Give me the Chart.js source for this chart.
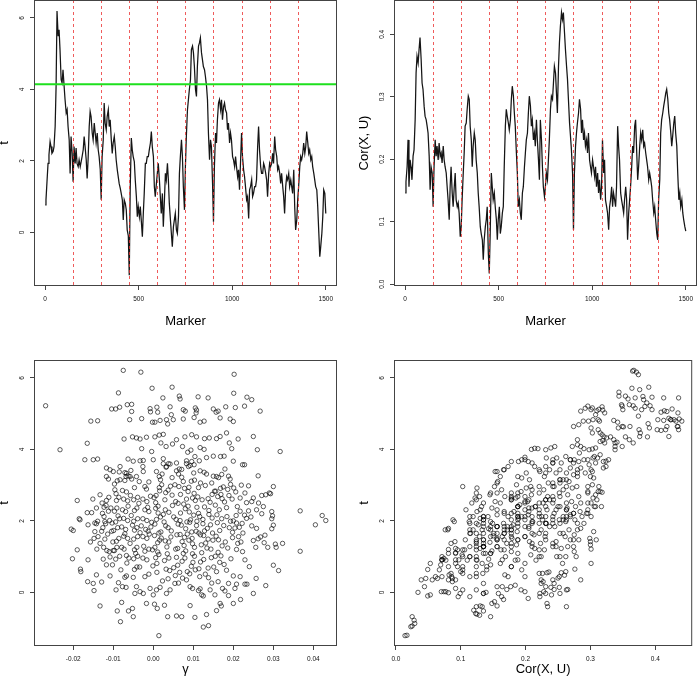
<!DOCTYPE html>
<html>
<head>
<meta charset="utf-8">
<script src="https://cdn.jsdelivr.net/npm/chart.js@4.4.1/dist/chart.umd.min.js"></script>
<style>
  html, body { margin: 0; padding: 0; background: #fff; }
  #wrap { position: relative; width: 697px; height: 677px; overflow: hidden; }
  #wrap canvas { position: absolute; }
</style>
</head>
<body>
<div id="wrap">
  <canvas id="tracePlot" width="348" height="338" style="left:0;top:0"></canvas>
  <canvas id="corPlot" width="349" height="338" style="left:348px;top:0"></canvas>
  <canvas id="gammaPlot" width="348" height="339" style="left:0;top:338px"></canvas>
  <canvas id="corScatter" width="349" height="339" style="left:348px;top:338px"></canvas>
</div>
<script>
// marker positions at which both traces were read
const markers = [
  1,5,11,16,21,27,32,37,43,48, 54,59,64,70,75,80,86,91,96,102,
  107,113,118,123,129,134,139,145,150,155, 161,166,171,177,182,188,193,198,204,209,
  214,220,225,230,236,241,246,252,257,263, 268,273,279,284,289,295,300,305,311,316,
  321,327,332,338,343,348,354,359,364,370, 375,380,386,391,396,402,407,413,418,423,
  429,434,439,445,450,455,461,466,471,477, 482,488,493,498,504,509,514,520,525,530,
  536,541,546,552,557,563,568,573,579,584, 589,595,600,605,611,616,621,627,632,638,
  643,648,654,659,664,670,675,680,686,691, 696,702,707,713,718,723,729,734,739,745,
  750,755,761,766,771,777,782,788,793,798, 804,809,814,820,825,830,836,841,846,852,
  857,863,868,873,879,884,889,895,900,905, 911,916,921,927,932,938,943,948,954,959,
  964,970,975,980,986,991,996,1002,1007,1013, 1018,1023,1029,1034,1039,1045,1050,1055,1061,1066,
  1071,1077,1082,1088,1093,1098,1104,1109,1114,1120, 1125,1130,1136,1141,1146,1152,1157,1163,1168,1173,
  1179,1184,1189,1195,1200,1205,1211,1216,1221,1227, 1232,1238,1243,1248,1254,1259,1264,1270,1275,1280,
  1286,1291,1296,1302,1307,1313,1318,1323,1329,1334, 1339,1345,1350,1355,1361,1366,1371,1377,1382,1388,
  1393,1398,1404,1409,1414,1420,1425,1430,1436,1441, 1446,1452,1457,1463,1468,1473,1479,1484,1489,1495,
  1500
];

// t statistic per marker
const tVals = [
  0.77,0.91,1.47,1.93,2.17,2.54,2.40,2.21,2.26,2.40, 2.96,4.08,6.19,5.49,5.67,5.11,4.27,4.18,4.55,4.08,
  3.71,3.34,3.43,2.96,2.59,1.65,2.68,2.21,1.42,2.40, 1.93,2.36,1.93,1.84,2.03,1.84,1.98,2.12,2.31,2.68,
  2.40,2.03,1.51,2.03,2.96,3.38,3.24,2.78,2.59,3.06, 2.78,2.50,2.78,2.31,2.12,1.75,0.91,2.12,2.59,3.62,
  3.06,2.87,3.24,3.43,2.96,3.15,2.59,2.21,2.50,2.68, 2.40,2.03,1.75,1.56,1.37,1.23,1.09,0.91,0.35,0.91,
  0.81,0.63,0.07,-0.10,-1.20,1.20,2.64,2.31,2.12,1.98, 1.47,1.00,0.44,0.72,0.44,0.72,0.35,-0.12,0.53,1.09,
  1.93,1.93,2.12,2.12,2.31,2.50,2.82,2.40,2.12,1.28, 1.00,1.37,1.65,1.93,1.47,1.00,0.53,1.09,0.16,0.91,
  1.65,1.47,1.93,1.47,0.81,0.35,-0.03,-0.40,0.16,0.35, 0.53,0.07,-0.03,0.44,1.65,2.12,2.59,2.12,1.28,0.63,
  1.84,2.68,3.43,3.71,3.99,4.27,5.11,5.21,5.02,4.64, 3.99,3.80,4.64,5.21,5.30,5.44,5.02,4.83,4.64,4.55,
  4.36,4.08,3.71,2.78,2.03,2.59,2.40,1.37,0.30,1.84, 2.78,2.50,3.15,3.62,3.71,3.43,3.71,3.15,3.52,3.62,
  3.43,3.34,2.87,3.06,2.50,2.78,2.59,2.12,2.03,1.84, 2.12,1.84,1.56,1.75,1.19,2.03,2.78,2.12,1.75,1.56,
  1.28,0.91,1.00,0.39,1.19,1.28,1.47,1.00,1.09,1.28, 1.28,1.47,2.40,2.96,2.31,1.84,1.65,1.65,1.93,1.84,
  1.65,1.47,1.00,1.65,1.93,1.84,1.93,2.21,1.93,2.68, 2.31,2.12,1.75,1.84,1.65,1.37,1.65,1.28,1.00,0.53,
  1.28,1.56,1.47,1.65,1.28,1.47,1.28,1.09,1.75,0.72, 0.07,0.35,0.91,1.28,1.84,2.12,2.03,2.21,2.50,2.21,
  2.40,2.82,2.50,2.21,2.31,2.03,2.12,1.84,1.65,1.47, 1.28,1.19,0.72,-0.03,-0.68,-0.40,-0.03,0.44,1.19,1.09,
  0.53
];

// Cor(X, U) per marker
const corVals = [
  0.146,0.164,0.188,0.231,0.156,0.199,0.188,0.167,0.205,0.215, 0.263,0.338,0.365,0.354,0.376,0.395,0.360,0.322,0.312,0.285,
  0.269,0.263,0.253,0.242,0.205,0.151,0.188,0.178,0.124,0.188, 0.231,0.205,0.221,0.199,0.226,0.205,0.210,0.194,0.221,0.199,
  0.188,0.178,0.156,0.135,0.103,0.156,0.188,0.146,0.124,0.156, 0.178,0.135,0.124,0.130,0.114,0.076,0.092,0.135,0.178,0.210,
  0.253,0.258,0.280,0.301,0.296,0.253,0.231,0.188,0.221,0.242, 0.231,0.199,0.178,0.146,0.124,0.092,0.081,0.071,0.039,0.071,
  0.092,0.103,0.124,0.049,0.017,0.081,0.178,0.156,0.135,0.146, 0.124,0.103,0.071,0.103,0.124,0.081,0.092,0.114,0.124,0.188,
  0.253,0.280,0.269,0.258,0.247,0.263,0.296,0.317,0.301,0.274, 0.253,0.210,0.178,0.124,0.135,0.114,0.103,0.146,0.156,0.188,
  0.210,0.231,0.242,0.274,0.301,0.285,0.253,0.263,0.231,0.242, 0.221,0.263,0.231,0.199,0.167,0.263,0.231,0.188,0.156,0.140,
  0.156,0.178,0.167,0.199,0.231,0.280,0.301,0.296,0.322,0.349, 0.338,0.306,0.274,0.349,0.387,0.413,0.435,0.424,0.435,0.403,
  0.376,0.349,0.328,0.296,0.258,0.237,0.215,0.178,0.087,0.178, 0.221,0.242,0.258,0.274,0.296,0.280,0.242,0.263,0.231,0.242,
  0.221,0.231,0.210,0.242,0.199,0.188,0.178,0.199,0.188,0.172, 0.188,0.156,0.178,0.146,0.167,0.135,0.156,0.231,0.178,0.199,
  0.135,0.124,0.114,0.087,0.124,0.135,0.156,0.124,0.146,0.135, 0.124,0.156,0.253,0.221,0.199,0.146,0.135,0.124,0.114,0.135,
  0.156,0.135,0.071,0.114,0.135,0.156,0.188,0.221,0.210,0.253, 0.263,0.210,0.167,0.188,0.221,0.242,0.231,0.247,0.221,0.226,
  0.210,0.199,0.188,0.167,0.178,0.167,0.156,0.135,0.114,0.124, 0.103,0.081,0.071,0.135,0.167,0.242,0.263,0.274,0.285,0.296,
  0.306,0.312,0.296,0.274,0.263,0.242,0.221,0.237,0.258,0.269, 0.242,0.221,0.178,0.135,0.146,0.124,0.135,0.114,0.103,0.092,
  0.085
];

// further (Cor, t) points
const corTExtra = [
  [0.367,6.21],[0.371,6.16],[0.374,6.09],[0.390,5.74],[0.364,5.71],[0.344,5.60],[0.344,5.49],[0.348,5.25],[0.358,5.41],[0.369,5.44],
  [0.381,5.48],[0.382,5.39],[0.395,5.46],[0.436,5.44],[0.426,5.13],[0.414,5.08],[0.418,5.06],[0.409,5.04],[0.413,4.81],[0.421,4.87],
  [0.424,4.83],[0.429,4.83],[0.432,4.79],[0.437,4.85],[0.441,4.79],[0.434,4.64],[0.436,4.55],[0.416,4.55],[0.418,4.64],[0.409,4.53],
  [0.421,4.36],[0.404,4.83],[0.389,4.72],[0.391,4.60],[0.388,4.35],[0.375,4.55],[0.377,4.46],[0.366,4.18],[0.354,4.35],[0.361,4.64],
  [0.351,4.63],[0.343,4.60],[0.342,4.76],[0.336,4.81],[0.338,4.18],[0.341,4.20],[0.366,5.22],[0.369,5.15],[0.360,5.25],[0.350,5.11],
  [0.379,5.11],[0.384,5.20],[0.392,5.22],[0.374,4.93],[0.285,5.07],[0.292,5.15],[0.303,5.16],[0.310,5.08],[0.313,5.12],[0.318,5.19],
  [0.319,5.10],[0.308,4.97],[0.282,4.69],[0.289,4.79],[0.297,4.79],[0.304,4.83],[0.312,4.83],[0.314,4.79],[0.301,4.60],[0.303,4.46],
  [0.315,4.46],[0.318,4.41],[0.321,4.35],[0.325,4.32],[0.331,4.35],[0.336,4.27],[0.315,4.22],[0.319,4.25],[0.308,4.04],[0.303,4.01],
  [0.298,3.99],[0.290,4.02],[0.283,3.90],[0.280,4.13],[0.272,4.08],[0.304,3.76],[0.311,3.76],[0.315,3.85],[0.320,3.66],[0.324,3.67],
  [0.320,3.48],[0.324,3.52],[0.308,3.62],[0.298,3.57],[0.290,3.71],[0.282,3.66],[0.275,3.71],[0.285,3.48],[0.280,3.34],[0.292,3.34],
  [0.303,3.38],[0.300,3.24],[0.305,3.20],[0.303,3.01],[0.313,2.96],[0.315,2.82],[0.318,2.80],[0.308,2.73],[0.304,2.64],[0.310,2.59],
  [0.301,2.50],[0.308,2.40],[0.296,2.31],[0.294,2.21],[0.287,2.12],[0.305,1.70],[0.309,1.47],[0.299,1.51],[0.300,1.42],[0.300,1.33],
  [0.301,1.21],[0.290,1.93],[0.285,1.79],[0.280,1.75],[0.275,1.61],[0.282,1.47],[0.275,1.14],[0.278,1.00],[0.276,0.65],[0.255,0.55],
  [0.260,0.48],[0.262,0.58],[0.250,0.40],[0.252,0.44],[0.244,0.25],[0.239,0.14],[0.244,0.08],[0.252,0.14],[0.265,0.08],[0.233,0.55],
  [0.236,0.57],[0.224,0.35],[0.227,0.30],[0.224,0.25],[0.222,-0.03],[0.222,-0.12],[0.228,0.02],[0.233,-0.31],[0.234,-0.40],[0.240,-0.07],
  [0.193,0.07],[0.199,0.02],[0.204,-0.17],[0.184,0.20],[0.177,0.16],[0.173,0.44],[0.168,0.49],[0.164,0.16],[0.171,0.08],[0.158,-0.03],
  [0.163,-0.12],[0.166,-0.20],[0.152,-0.26],[0.156,-0.38],[0.148,-0.31],[0.139,0.00],[0.135,0.25],[0.134,0.53],[0.130,-0.38],[0.133,-0.40],
  [0.135,-0.52],[0.125,-0.61],[0.123,-0.59],[0.129,-0.64],[0.120,-0.50],[0.014,-1.21],[0.023,-0.96],[0.025,-0.94],[0.028,-0.78],[0.025,-0.68],
  [0.029,-0.87],[0.034,0.00],[0.044,0.16],[0.046,0.39],[0.049,0.64],[0.053,0.81],[0.053,-0.07],[0.056,0.35],[0.061,0.44],[0.064,0.39],
  [0.067,0.63],[0.069,0.77],[0.074,0.95],[0.077,0.90],[0.070,0.02],[0.074,0.02],[0.077,0.02],[0.081,-0.01],[0.082,0.49],[0.086,0.44],
  [0.080,1.75],[0.081,1.79],[0.088,2.03],[0.090,1.98],[0.085,1.37],[0.091,1.42],[0.092,1.11],[0.095,1.19],[0.097,0.91],[0.095,0.72],
  [0.100,0.58],[0.096,-0.12],[0.099,-0.03],[0.092,0.11],[0.102,1.05],[0.106,1.19],[0.110,0.90],[0.114,1.28],[0.107,1.47],[0.115,1.65],
  [0.119,1.75],[0.113,1.98],[0.119,2.12],[0.108,2.31],[0.117,2.50],[0.122,2.64],[0.125,2.92],[0.129,2.68],[0.132,2.40],[0.125,2.26],
  [0.130,2.07],[0.127,1.89],[0.133,1.75],[0.129,1.56],[0.135,1.37],[0.130,1.23],[0.138,1.09],[0.125,0.90],[0.133,0.81],[0.140,0.72],
  [0.143,0.93],[0.148,1.16],[0.145,1.40],[0.150,1.58],[0.143,1.78],[0.149,1.93],[0.142,2.12],[0.148,2.36],[0.153,2.54],[0.145,2.73],
  [0.152,2.96],[0.157,3.10],[0.161,3.24],[0.153,3.38],[0.166,3.43],[0.173,3.52],[0.178,3.66],[0.189,3.66],[0.194,3.71],[0.199,3.78],
  [0.209,4.00],[0.214,4.03],[0.219,4.02],[0.208,2.96],[0.163,2.87],[0.168,2.68],[0.161,2.50],[0.167,2.26],[0.173,2.12],[0.166,1.93],
  [0.172,1.75],[0.164,1.56],[0.171,1.37],[0.162,1.19],[0.169,1.00],[0.161,0.81],[0.178,0.72],[0.184,0.90],[0.178,1.14],[0.186,1.33],
  [0.179,1.51],[0.187,1.70],[0.181,1.89],[0.189,2.07],[0.182,2.26],[0.191,2.45],[0.185,2.64],[0.193,2.82],[0.186,3.01],[0.194,3.20],
  [0.201,3.34],[0.206,3.15],[0.201,2.92],[0.209,2.73],[0.203,2.54],[0.210,2.36],[0.204,2.17],[0.211,1.98],[0.205,1.79],[0.213,1.61],
  [0.206,1.42],[0.214,1.23],[0.208,1.05],[0.216,0.90],[0.199,0.81],[0.194,0.63],[0.224,1.00],[0.229,1.19],[0.223,1.37],[0.230,1.56],
  [0.224,1.75],[0.232,1.93],[0.225,2.12],[0.233,2.31],[0.227,2.50],[0.234,2.68],[0.228,2.87],[0.235,3.06],[0.229,3.24],[0.237,3.43],
  [0.242,3.62],[0.248,3.76],[0.255,3.62],[0.247,3.34],[0.253,3.15],[0.244,2.96],[0.252,2.78],[0.243,2.59],[0.250,2.40],[0.244,2.21],
  [0.252,2.03],[0.245,1.84],[0.253,1.65],[0.247,1.42],[0.255,1.23],[0.248,1.00],[0.257,0.81],[0.262,1.00],[0.265,1.28],[0.261,1.56],
  [0.267,1.75],[0.262,1.98],[0.269,2.17],[0.264,2.36],[0.271,2.54],[0.265,2.73],[0.272,2.92],[0.267,3.10],[0.274,3.29],[0.269,3.48],
  [0.279,2.96],[0.282,2.68],[0.277,2.40],[0.284,2.26],[0.276,2.03],[0.204,3.66],[0.214,3.52],[0.222,3.38],[0.232,3.76],[0.239,4.04],
  [0.245,4.08],[0.262,3.80],[0.269,3.71]
];

// (gamma, t) pairs
const gammaPoints = [
  [-0.0075,6.21],[-0.0031,6.16],[0.0202,6.10],[-0.0087,5.58],[-0.0003,5.71],[0.0047,5.74],[0.0201,5.57],[-0.0269,5.22],[-0.0065,5.25],[-0.0054,5.26],
  [0.0024,5.44],[0.0065,5.49],[0.0067,5.41],[0.0112,5.47],[0.0137,5.44],[0.0234,5.46],[0.0246,5.39],[0.0228,5.21],[0.0267,5.07],[0.0205,5.17],
  [-0.0104,5.13],[-0.0094,5.13],[-0.0084,5.18],[-0.0054,5.06],[-0.0008,5.14],[-0.0007,5.05],[0.0009,5.18],[0.0011,5.04],[0.0042,5.19],[0.0045,4.97],
  [0.0075,5.11],[0.0080,5.07],[0.0105,5.16],[0.0107,5.02],[0.0108,5.10],[0.0150,5.13],[0.0157,5.04],[0.0162,5.07],[0.0181,5.19],[-0.0156,4.79],
  [-0.0139,4.80],[-0.0059,4.83],[-0.0029,4.86],[-0.0002,4.76],[0.0004,4.76],[0.0017,4.81],[0.0033,4.83],[0.0036,4.71],[0.0050,4.83],[0.0075,4.85],
  [0.0102,4.89],[0.0117,4.76],[0.0127,4.79],[0.0167,4.88],[0.0192,4.85],[0.0200,4.78],[-0.0165,4.17],[-0.0233,3.99],[-0.0073,4.29],[-0.0052,4.35],
  [-0.0042,4.32],[-0.0033,4.29],[-0.0017,4.34],[0.0004,4.35],[0.0015,4.40],[0.0025,4.42],[0.0058,4.27],[0.0079,4.35],[0.0096,4.41],[0.0108,4.35],
  [0.0128,4.30],[0.0140,4.32],[0.0158,4.30],[0.0167,4.36],[0.0183,4.46],[0.0212,4.29],[0.0250,4.36],[-0.0029,4.02],[-0.0004,3.94],[0.0019,4.18],
  [0.0032,4.08],[0.0048,4.15],[0.0073,4.08],[0.0086,3.92],[0.0094,3.98],[0.0117,4.05],[0.0127,4.00],[0.0190,4.18],[0.0196,4.02],[0.0260,3.99],
  [0.0317,3.94],
  [-0.0171,3.71],[-0.0150,3.71],[-0.0139,3.73],[-0.0063,3.73],[-0.0050,3.67],[-0.0033,3.68],[-0.0025,3.69],[0.0000,3.71],[0.0025,3.74],[0.0042,3.59],
  [0.0058,3.62],[0.0083,3.68],[0.0104,3.80],[0.0115,3.68],[0.0133,3.77],[0.0150,3.81],[0.0168,3.80],[0.0177,3.81],[0.0200,3.67],[-0.0117,3.48],
  [-0.0108,3.43],[-0.0100,3.38],[-0.0085,3.37],[-0.0067,3.33],[-0.0056,3.41],[-0.0025,3.38],[0.0228,3.57],[0.0065,3.45],[0.0092,3.55],[0.0032,3.50],
  [-0.0190,2.57],[-0.0185,2.06],[-0.0183,2.03],[-0.0205,1.77],[-0.0200,1.73],[-0.0202,0.94],[-0.0190,1.19],[-0.0182,0.65],[-0.0181,0.58],[-0.0163,0.91],
  [-0.0164,0.30],[-0.0150,0.25],[-0.0148,0.05],[-0.0142,0.49],[-0.0133,-0.38],[-0.0129,0.29],[-0.0093,0.07],[-0.0090,-0.52],[-0.0082,-0.82],[-0.0079,-0.28],
  [-0.0077,0.16],[-0.0068,0.14],[-0.0062,-0.52],[-0.0052,-0.45],[-0.0050,-0.68],[-0.0046,-0.03],[-0.0042,0.16],[-0.0017,-0.31],[0.0003,-0.33],[0.0010,-0.45],
  [0.0014,-1.21],[0.0036,-0.68],[0.0028,-0.36],[0.0058,-0.66],[0.0071,-0.68],[0.0092,-0.37],[0.0104,-0.70],[0.0125,-0.97],[0.0138,-0.93],[0.0133,-0.62],
  [0.0158,-0.51],[0.0167,-0.31],[0.0170,-0.38],[0.0188,-0.09],[0.0200,-0.31],[0.0218,-0.20],[0.0229,0.23],[0.0234,0.23],[0.0250,-0.03],[0.0257,0.39],
  [0.0281,0.19],[0.0300,0.76],[0.0313,0.61],[0.0323,1.37],[0.0305,1.35],[0.0307,1.26],[0.0286,1.26],[0.0367,1.15],[0.0367,2.28],[0.0405,1.89],
  [0.0422,2.15],[0.0431,2.01],[0.0279,1.60],[0.0277,1.39],[0.0296,1.78],[0.0300,1.88],[0.0296,2.06],[0.0298,2.14],[0.0296,2.26],[0.0293,2.76],
  [0.0300,2.96],[0.0290,2.78],[0.0281,2.73],[0.0271,2.71],[0.0263,2.50],[0.0275,2.40],[0.0271,2.20],[0.0258,1.79],[0.0262,1.50],[0.0268,1.55],
  [0.0250,1.45],[0.0256,1.26],[0.0246,1.86],[0.0238,2.28],[0.0228,2.16],[0.0233,2.07],[0.0246,2.54],[0.0250,2.64],[0.0229,2.78],[0.0238,2.98],
  [0.0262,3.26],[0.0223,3.57],[0.0220,3.00],[0.0217,2.64],[0.0210,2.40],[0.0217,2.27],[0.0200,2.00],[0.0208,1.94],[0.0204,1.80],[0.0215,1.82],
  [0.0213,1.56],[0.0219,1.41],[0.0208,1.20],[0.0223,1.14],[0.0229,0.91],[0.0240,0.72],[0.0217,0.44],[0.0204,0.11],[0.0208,0.23],[0.0200,0.46],
  [0.0188,0.25],[0.0173,0.11],[0.0179,0.04],[0.0162,0.30],[0.0154,-0.07],[0.0146,0.26],[0.0142,0.07],[0.0121,-0.07],[0.0125,-0.10],[0.0117,0.10],
  [0.0113,0.05],[0.0098,0.11],[0.0092,0.16],[0.0083,0.35],[0.0073,0.40],[0.0054,0.25],[0.0042,0.07],[0.0033,-0.03],[0.0017,0.14],[0.0008,0.07],
  [0.0000,-0.07],[-0.0008,0.11],[-0.0025,-0.03],[-0.0033,0.02],[-0.0050,0.42],[-0.0067,0.46],[-0.0071,0.42],[-0.0087,0.27],[-0.0108,0.46],[-0.0117,0.77],
  [-0.0102,0.77],[-0.0125,0.93],[-0.0110,1.14],[-0.0100,1.17],[-0.0133,1.37],[-0.0138,1.56],[-0.0148,1.51],[-0.0146,1.70],[-0.0142,1.92],[-0.0146,1.94],
  [-0.0163,1.89],[-0.0165,2.23],[-0.0154,2.23],[-0.0142,2.36],[-0.0123,2.12],[-0.0121,1.98],[-0.0128,2.50],[-0.0123,2.38],[-0.0133,2.73],[-0.0117,3.24],
  [-0.0112,3.17],[-0.0096,2.87],[-0.0093,2.76],[-0.0090,3.12],[-0.0083,3.15],[-0.0071,3.13],[-0.0063,3.26],[-0.0054,3.17],[-0.0083,3.52],[-0.0071,3.35],
  [-0.0068,3.24],[-0.0058,3.24],[-0.0042,3.24],[-0.0035,3.10],[-0.0021,2.96],[-0.0017,2.89],[0.0008,3.38],[0.0015,3.24],[0.0018,3.15],[0.0025,3.60],
  [0.0033,3.52],[0.0038,3.60],[0.0058,3.40],[0.0063,3.31],[0.0071,3.22],[0.0075,3.10],[0.0083,3.60],[0.0088,3.52],[0.0096,3.66],[0.0102,3.57],
  [0.0117,3.40],[0.0127,3.36],[0.0133,3.31],[0.0150,3.25],[0.0158,3.24],[0.0163,3.21],[0.0171,3.30],[0.0179,3.45],[0.0188,3.25],[0.0192,3.17],
  [0.0175,2.95],[0.0186,2.88],[0.0193,3.02],[0.0156,2.83],[0.0169,2.74],[0.0201,2.92],[0.0206,2.81],[0.0189,2.71],[0.0197,2.61],[0.0178,2.53],
  [0.0172,2.62],[0.0165,2.31],[0.0159,2.17],[0.0147,2.08],[0.0184,2.12],[0.0193,1.99],[0.0176,1.87],[0.0166,1.73],[0.0190,1.81],[0.0198,1.68],
  [0.0157,1.57],[0.0149,1.46],[0.0180,1.41],[0.0172,1.30],[0.0162,1.12],[0.0155,1.01],[0.0145,0.97],[0.0194,0.94],[0.0166,0.84],[0.0177,0.78],
  [0.0151,0.71],[0.0137,0.68],[0.0130,0.51],[0.0116,0.44],[0.0105,0.63],[0.0095,0.73],[0.0118,0.85],[0.0126,0.92],[0.0103,1.01],[0.0098,1.08],
  [0.0134,1.24],[0.0120,1.33],[0.0137,1.49],[0.0126,1.59],[0.0114,1.66],[0.0107,1.71],[0.0135,1.79],[0.0143,1.89],[0.0124,2.04],[0.0116,2.12],
  [0.0109,1.99],[0.0139,2.29],[0.0128,2.39],[0.0122,2.59],[0.0111,2.67],[0.0147,2.74],[0.0153,2.83],[0.0130,2.99],[0.0118,3.06],[0.0103,3.14],
  [0.0095,3.11],[0.0089,2.94],[0.0078,2.91],[0.0098,2.64],[0.0105,2.57],[0.0087,2.41],[0.0080,2.34],[0.0101,2.16],[0.0113,2.21],[0.0091,1.96],
  [0.0084,1.97],[0.0096,1.69],[0.0085,1.63],[0.0078,1.54],[0.0089,1.46],[0.0098,1.36],[0.0103,1.26],[0.0081,1.16],[0.0075,1.09],[0.0079,0.96],
  [0.0072,0.87],[0.0061,0.76],[0.0051,0.69],[0.0066,0.56],[0.0055,0.47],[0.0041,0.61],[0.0032,0.65],[0.0039,0.96],[0.0028,0.89],[0.0056,1.21],
  [0.0061,1.23],[0.0039,1.41],[0.0030,1.44],[0.0059,1.61],[0.0067,1.62],[0.0037,1.81],[0.0031,1.86],[0.0057,2.04],[0.0067,2.01],[0.0039,2.24],
  [0.0030,2.31],[0.0056,2.54],[0.0062,2.49],[0.0037,2.86],[0.0031,2.79],[0.0054,3.01],[0.0064,2.96],[0.0021,3.01],[0.0015,2.93],[0.0007,2.71],
  [0.0002,2.65],[0.0012,2.41],[0.0006,2.35],[0.0018,2.11],[0.0008,2.04],[0.0004,1.91],[-0.0004,1.96],[0.0014,1.66],[0.0003,1.59],[0.0016,1.46],
  [0.0011,1.39],[0.0004,1.26],[-0.0002,1.19],[0.0014,1.06],[0.0006,0.97],[0.0009,0.81],[-0.0001,0.74],[-0.0011,0.51],[-0.0021,0.44],[-0.0016,0.91],
  [-0.0026,0.96],[-0.0011,1.21],[-0.0021,1.15],[-0.0016,1.51],[-0.0026,1.56],[-0.0013,1.71],[-0.0019,1.76],[-0.0016,2.01],[-0.0026,2.06],[-0.0011,2.26],
  [-0.0021,2.31],[-0.0016,2.54],[-0.0026,2.61],[-0.0007,2.69],[-0.0039,2.66],[-0.0049,2.59],[-0.0041,2.36],[-0.0047,2.29],[-0.0039,2.06],[-0.0049,1.99],
  [-0.0041,1.81],[-0.0047,1.74],[-0.0039,1.56],[-0.0049,1.49],[-0.0041,1.26],[-0.0047,1.19],[-0.0039,1.01],[-0.0049,0.94],[-0.0041,0.71],[-0.0047,0.64],
  [-0.0061,0.96],[-0.0067,1.03],[-0.0073,1.21],[-0.0079,1.26],[-0.0064,1.51],[-0.0074,1.57],[-0.0069,1.76],[-0.0079,1.83],[-0.0064,2.01],[-0.0074,2.07],
  [-0.0069,2.26],[-0.0077,2.31],[-0.0064,2.56],[-0.0074,2.61],[-0.0067,2.81],[-0.0077,2.85],[-0.0086,2.66],[-0.0092,2.57],[-0.0091,2.36],[-0.0097,2.27],
  [-0.0084,2.06],[-0.0094,1.97],[-0.0089,1.81],[-0.0099,1.73],[-0.0086,1.51],[-0.0092,1.43],[-0.0091,1.26],[-0.0097,1.17],[-0.0084,1.01],[-0.0094,0.93],
  [-0.0104,1.71],[-0.0114,1.63],[-0.0109,2.01],[-0.0119,1.92],[-0.0106,2.36],[-0.0112,2.27],[-0.0111,2.66],[-0.0117,2.57],[-0.0126,1.81],[-0.0129,1.71],
  [-0.0124,1.26],[-0.0116,1.17],[0.0045,1.72],[0.0070,1.88],[0.0025,2.18],[0.0090,2.25],[0.0048,2.43],[0.0020,1.52],[0.0072,1.42],[0.0108,1.87],
  [-0.0030,1.86],[0.0035,1.08],[-0.0055,2.15],[0.0128,1.72],[0.0085,0.58],[0.0023,0.32],[-0.0058,1.37],[0.0142,2.52],[0.0160,1.95],[0.0047,2.72],
  [-0.0010,1.63],[0.0068,2.22],
  [0.0012,2.22],[0.0027,1.97],[0.0051,2.11],[0.0076,2.47],[0.0093,2.03],[0.0109,2.38],[0.0124,1.92],[0.0139,2.18],[0.0155,2.44],[0.0171,2.06],
  [-0.0006,1.83],[0.0019,1.69],[0.0044,1.55],[0.0062,1.91],[0.0081,1.78],[0.0097,1.51],[0.0118,1.61],[0.0131,1.38],[0.0148,1.66],[0.0163,1.47],
  [-0.0033,1.67],[-0.0052,1.88],[-0.0071,1.64],[-0.0088,2.14],[-0.0103,1.94],[-0.0127,2.21],[-0.0139,1.99],[-0.0063,2.41],[-0.0036,2.49],[-0.0014,2.38],
  [0.0016,2.84],[0.0043,2.97],[0.0068,2.74],[0.0087,2.82],[0.0113,2.93],[0.0137,2.62],[0.0161,2.68],[0.0183,2.37],[0.0207,2.15],[0.0222,1.93],
  [0.0011,1.13],[0.0034,1.27],[0.0058,0.98],[0.0077,1.31],[0.0099,0.84],[0.0121,1.11],[0.0144,1.21],[0.0169,1.02],[0.0186,1.24],[0.0211,1.37],
  [-0.0024,1.29],[-0.0044,1.09],[-0.0066,0.82],[-0.0081,0.63],[-0.0101,1.41],[-0.0121,1.49],[-0.0141,1.21],[-0.0157,1.41],[-0.0108,0.99],[-0.0034,0.71],
  [0.0009,0.56],[0.0037,0.38],[0.0063,0.26],[0.0091,0.52],[0.0114,0.66],[0.0138,0.41],[0.0158,0.58],[0.0183,0.62],[0.0198,1.53],[0.0224,1.66],
  [0.0047,3.21],[0.0071,3.44],[0.0022,3.31],[-0.0011,3.09],[-0.0047,2.93],[-0.0026,3.52],[0.0101,3.34],[0.0146,3.06],[0.0168,2.91],[-0.0097,3.03],
  [0.0006,2.51],[0.0029,2.59],[0.0083,2.61],[0.0102,2.77],[-0.0057,2.71],[-0.0118,2.43],[-0.0151,2.61],[0.0233,2.51],[0.0244,2.11],[0.0258,2.31]
];

const blockBreaks = [150, 300, 450, 600, 750, 900, 1050, 1200, 1350];
const tThreshold = 4.14;

const markerTicks = [0, 500, 1000, 1500];
const tTicks = [0, 2, 4, 6];
const corTicks = [0, 0.1, 0.2, 0.3, 0.4];
const gammaTicks = [-0.02, -0.01, 0, 0.01, 0.02, 0.03, 0.04];

const FONT = "'Liberation Sans', Arial, Helvetica, sans-serif";
Chart.defaults.font.family = FONT;
Chart.defaults.color = "#000";

const fmtInt = (v) => String(Math.round(v));
const fmt1 = (v) => v.toFixed(1);
const fmt2 = (v) => v.toFixed(2);

// R-ish decorations: box, tick labels, reference lines
const rDeco = {
  id: "rDeco",
  afterDatasetsDraw(chart, args, opts) {
    const { ctx, chartArea: ca } = chart;
    const xs = chart.scales.x;
    const ys = chart.scales.y;
    ctx.save();
    ctx.beginPath();
    ctx.rect(ca.left, ca.top, ca.right - ca.left, ca.bottom - ca.top);
    ctx.clip();
    if (opts.vLines) {
      ctx.strokeStyle = "rgba(235,50,50,0.8)";
      ctx.lineWidth = 1;
      ctx.setLineDash([3, 3]);
      opts.vLines.forEach((v) => {
        const px = Math.round(xs.getPixelForValue(v)) + 0.5;
        ctx.beginPath();
        ctx.moveTo(px, ca.top);
        ctx.lineTo(px, ca.bottom);
        ctx.stroke();
      });
      ctx.setLineDash([]);
    }
    if (opts.hLine !== undefined) {
      const py = ys.getPixelForValue(opts.hLine);
      ctx.strokeStyle = "#1ee01e";
      ctx.lineWidth = 2;
      ctx.beginPath();
      ctx.moveTo(ca.left, py);
      ctx.lineTo(ca.right, py);
      ctx.stroke();
    }
    ctx.restore();

    ctx.save();
    ctx.strokeStyle = "#444";
    ctx.lineWidth = 1;
    ctx.strokeRect(ca.left + 0.5, ca.top + 0.5, ca.right - ca.left - 1, ca.bottom - ca.top - 1);
    ctx.fillStyle = "#111";
    ctx.font = "6.5px " + FONT;
    ctx.textAlign = "center";
    ctx.textBaseline = "alphabetic";
    xs.ticks.forEach((t) => {
      ctx.fillText(opts.xFmt(t.value), xs.getPixelForValue(t.value), ca.bottom + 15);
    });
    ys.ticks.forEach((t) => {
      ctx.save();
      ctx.translate(ca.left - 10, ys.getPixelForValue(t.value));
      ctx.rotate(-Math.PI / 2);
      ctx.fillText(opts.yFmt(t.value), 0, 0);
      ctx.restore();
    });
    ctx.restore();
  },
};

function axis(range, ticks, title, titlePad, size, isX) {
  return {
    type: "linear",
    min: range[0],
    max: range[1],
    afterBuildTicks: (s) => { s.ticks = ticks.map((v) => ({ value: v })); },
    afterFit: (s) => { if (isX) s.height = size; else s.width = size; },
    border: { display: false },
    grid: { drawOnChartArea: false, drawTicks: true, tickLength: 4, color: "#444", lineWidth: 1 },
    ticks: { display: false },
    title: {
      display: true,
      text: title,
      color: "#000",
      font: { size: 13, lineHeight: 1 },
      padding: isX ? { top: 0, bottom: titlePad } : { top: titlePad, bottom: 0 },
    },
  };
}

function panel(id, datasets, o) {
  return new Chart(document.getElementById(id), {
    data: { datasets },
    options: {
      responsive: false,
      animation: false,
      events: [],
      layout: { padding: o.pad },
      plugins: {
        legend: { display: false },
        tooltip: { enabled: false },
        rDeco: { vLines: o.vLines, hLine: o.hLine, xFmt: o.xFmt, yFmt: o.yFmt },
      },
      scales: {
        x: axis(o.xr, o.xTicks, o.xTitle, o.xTitlePad, o.xH, true),
        y: axis(o.yr, o.yTicks, o.yTitle, o.yTitlePad, o.yW, false),
      },
    },
    plugins: [rDeco],
  });
}

const tracePts = markers.map((m, i) => ({ x: m, y: tVals[i] }));
const corPts = markers.map((m, i) => ({ x: m, y: corVals[i] }));
const corTPts = markers.map((m, i) => ({ x: corVals[i], y: tVals[i] }))
  .concat(corTExtra.map((p) => ({ x: p[0], y: p[1] })));
const gammaPts = gammaPoints.map((p) => ({ x: p[0], y: p[1] }));

const lineStyle = { type: "line", borderColor: "#151515", borderWidth: 1.25, pointRadius: 0, tension: 0, fill: false };
const dotStyle = {
  type: "scatter",
  pointStyle: "circle",
  pointRadius: 2.2,
  borderWidth: 0.8,
  borderColor: "rgba(0,0,0,0.8)",
  backgroundColor: "rgba(0,0,0,0)",
};

panel("tracePlot", [{ ...lineStyle, data: tracePts }], {
  pad: { top: 0, right: 11, bottom: 0, left: 0 },
  xr: [-59, 1560], yr: [-1.5, 6.5],
  xTicks: markerTicks, yTicks: tTicks, xFmt: fmtInt, yFmt: fmtInt,
  xTitle: "Marker", yTitle: "t", xTitlePad: 10, yTitlePad: -2,
  xH: 52, yW: 34, vLines: blockBreaks, hLine: tThreshold,
});

panel("corPlot", [{ ...lineStyle, data: corPts }], {
  pad: { top: 0, right: 0, bottom: 0, left: 0 },
  xr: [-59, 1560], yr: [-0.003, 0.455],
  xTicks: markerTicks, yTicks: corTicks, xFmt: fmtInt, yFmt: fmt1,
  xTitle: "Marker", yTitle: "Cor(X, U)", xTitlePad: 10, yTitlePad: 10,
  xH: 52, yW: 46, vLines: blockBreaks,
});

panel("gammaPlot", [{ ...dotStyle, data: gammaPts }], {
  pad: { top: 22, right: 11, bottom: 0, left: 0 },
  xr: [-0.0298, 0.0459], yr: [-1.5, 6.5],
  xTicks: gammaTicks, yTicks: tTicks, xFmt: fmt2, yFmt: fmtInt,
  xTitle: "γ", yTitle: "t", xTitlePad: 1, yTitlePad: -2,
  xH: 31, yW: 34,
});

panel("corScatter", [{ ...dotStyle, data: corTPts }], {
  pad: { top: 22, right: 0, bottom: 0, left: 0 },
  xr: [-0.003, 0.457], yr: [-1.5, 6.5],
  xTicks: corTicks, yTicks: tTicks, xFmt: fmt1, yFmt: fmtInt,
  xTitle: "Cor(X, U)", yTitle: "t", xTitlePad: 1, yTitlePad: 10,
  xH: 31, yW: 46,
});
</script>
</body>
</html>
